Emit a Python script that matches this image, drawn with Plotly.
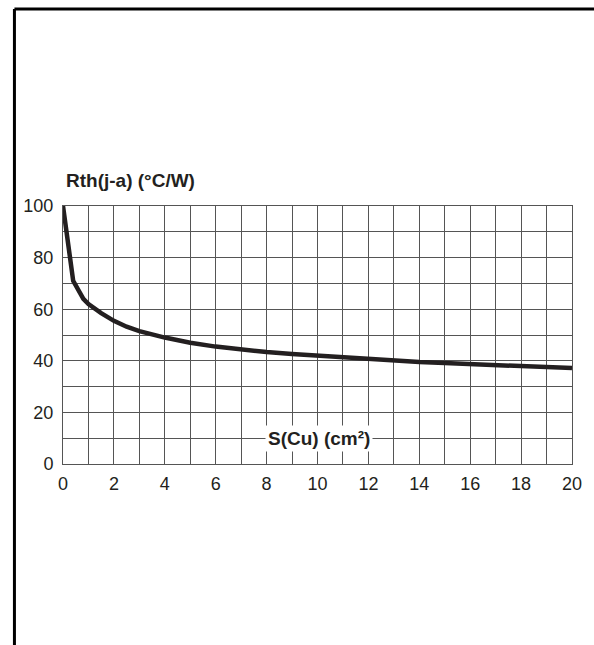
import plotly.graph_objects as go

# Data
s_cu = [0, 0.4, 0.8, 1, 1.5, 2, 2.5, 3, 4, 5, 6, 7, 8, 9, 10, 11, 12, 13, 14, 15, 16, 17, 18, 19, 20]
rth = [100, 71, 64, 62, 58.5, 55.5, 53.2, 51.5, 49, 47, 45.5, 44.3, 43.4, 42.6, 41.9, 41.2, 40.6,
       40.0, 39.5, 39.1, 38.7, 38.3, 37.9, 37.5, 37.2]

x_ticks = [0, 2, 4, 6, 8, 10, 12, 14, 16, 18, 20]
y_ticks = [0, 20, 40, 60, 80, 100]

y_title = "Rth(j-a) (°C/W)"
x_title = "S(Cu) (cm²)"

ink = "#231f20"
grid = "#555555"
font = "Liberation Sans, Arial, sans-serif"

fig = go.Figure()
fig.add_trace(go.Scatter(x=s_cu, y=rth, mode="lines",
                         line=dict(color=ink, width=4.5), hoverinfo="skip"))

fig.update_layout(
    width=594, height=645,
    margin=dict(l=63, r=19, t=206, b=181),
    paper_bgcolor="white", plot_bgcolor="white",
    showlegend=False,
    font=dict(family=font, color=ink, size=18),
)
fig.update_xaxes(range=[0, 20], tickvals=x_ticks, ticktext=[str(v) for v in x_ticks],
                 showgrid=True, gridcolor=grid, gridwidth=1,
                 minor=dict(dtick=1, showgrid=True, gridcolor=grid, gridwidth=1),
                 showline=True, linecolor=grid, linewidth=1, mirror=True,
                 zeroline=False, ticks="", ticklabelstandoff=3,
                 tickfont=dict(size=18, color=ink))
fig.update_yaxes(range=[0, 100], tickvals=y_ticks, ticktext=[str(v) for v in y_ticks],
                 showgrid=True, gridcolor=grid, gridwidth=1,
                 minor=dict(dtick=10, showgrid=True, gridcolor=grid, gridwidth=1),
                 showline=True, linecolor=grid, linewidth=1, mirror=True,
                 zeroline=False, ticks="", ticklabelstandoff=5,
                 tickfont=dict(size=18, color=ink))

fig.add_annotation(text="<b>" + y_title + "</b>", xref="paper", yref="paper",
                   x=0.001, y=1.097, xanchor="left", yanchor="middle", showarrow=False,
                   font=dict(size=19, color=ink, family=font))
fig.add_annotation(text="<b>" + x_title + "</b>", xref="x", yref="y",
                   x=10.05, y=10, xanchor="center", yanchor="middle", showarrow=False,
                   bgcolor="white", borderpad=2,
                   font=dict(size=19, color=ink, family=font))

# outer frame (top and left edges)
fig.add_shape(type="line", xref="paper", yref="paper", x0=-0.0954, x1=1.05, y0=1.7636, y1=1.7636,
              line=dict(color="black", width=3))
fig.add_shape(type="line", xref="paper", yref="paper", x0=-0.0954, x1=-0.0954, y0=1.7636, y1=-0.75,
              line=dict(color="black", width=3))

fig.write_html("out.html")
